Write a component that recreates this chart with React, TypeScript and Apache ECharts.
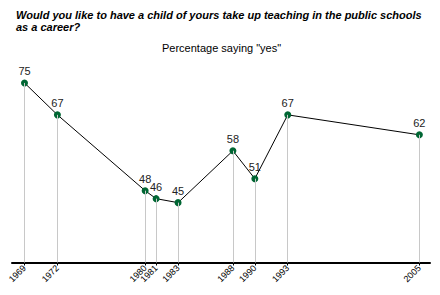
import React, { useEffect, useRef } from "react";
import * as echarts from "echarts";

const years = [1969, 1972, 1980, 1981, 1983, 1988, 1990, 1993, 2005];
const values = [75, 67, 48, 46, 45, 58, 51, 67, 62];
const titleLines = [
  "Would you like to have a child of yours take up teaching in the public schools",
  "as a career?",
];
const subtitle = 'Percentage saying "yes"';

export default function App() {
  const ref = useRef<HTMLDivElement>(null);
  useEffect(() => {
    const chart = echarts.init(ref.current!, null, { renderer: "svg" });
    const font = "Arial, 'Liberation Sans', sans-serif";
    chart.setOption({
      animation: false,
      backgroundColor: "#fff",
      graphic: [
        {
          type: "text",
          left: 16,
          top: 9,
          style: {
            text: titleLines.join("\n"),
            font: `italic bold 11px ${font}`,
            fill: "#000",
            lineHeight: 12,
          },
        },
        {
          type: "text",
          left: 162,
          top: 42,
          style: { text: subtitle, font: `11px ${font}`, fill: "#000" },
        },
      ],
      grid: { left: 12, right: 10, top: 63, bottom: 32.5 },
      xAxis: {
        type: "value",
        min: 1967.86,
        max: 2005.97,
        splitLine: { show: false },
        axisLine: { show: true, lineStyle: { color: "#000", width: 2 } },
        axisTick: { show: true, customValues: years, length: 3, lineStyle: { color: "#000" } },
        axisLabel: {
          customValues: years,
          rotate: 45,
          fontSize: 9,
          fontFamily: font,
          color: "#000",
          margin: 4,
          formatter: (v: number) => String(v),
        },
      },
      yAxis: {
        type: "value",
        min: 30,
        max: 80,
        show: false,
      },
      series: [
        {
          type: "line",
          data: years.map((y, i) => [y, values[i]]),
          lineStyle: { color: "#000", width: 1 },
          symbol: "circle",
          symbolSize: 7,
          itemStyle: { color: "#006633" },
          label: {
            show: true,
            position: "top",
            distance: 3,
            fontSize: 11,
            fontFamily: font,
            color: "#222",
          },
          markLine: {
            silent: true,
            symbol: "none",
            label: { show: false },
            lineStyle: { color: "#c8c8c8", width: 1, type: "solid" },
            data: years.map((y, i) => [
              { coord: [y, 30] },
              { coord: [y, values[i]] },
            ]),
          },
          z: 3,
        },
      ],
    });
    return () => chart.dispose();
  }, []);
  return <div ref={ref} style={{ width: 440, height: 295, margin: -8 }} />;
}
